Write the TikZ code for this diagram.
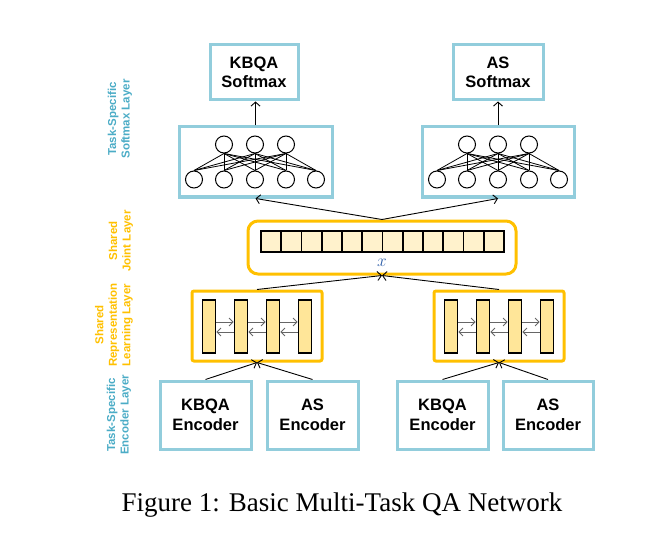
\documentclass[tikz,border=0pt]{standalone}
\usepackage{fontspec}
\setmainfont{Liberation Serif}
\setsansfont{Liberation Sans}
\usetikzlibrary{calc, positioning, arrows.meta}
\definecolor{taskblue}{HTML}{92CDDC}
\definecolor{tasktext}{HTML}{4BACC6}
\definecolor{sharedorange}{HTML}{FFC000}
\definecolor{celly}{HTML}{FFF2CC}
\definecolor{bary}{HTML}{FFE699}
\definecolor{xblue}{HTML}{2E5EA8}
\tikzset{
  taskbox/.style={draw=taskblue, line width=3pt, fill=white, align=center, inner sep=0pt,
    font=\sffamily\bfseries\fontsize{16.5}{19.5}\selectfont},
  sharedbox/.style={draw=sharedorange, line width=3pt, inner sep=0pt},
  neuron/.style={circle, draw, line width=1pt, minimum size=17pt, inner sep=0pt},
  cell/.style={draw, fill=celly, line width=1.6pt, minimum width=20.25pt, minimum height=21pt, inner sep=0pt},
  bar/.style={draw, fill=bary, line width=1.6pt, minimum width=13pt, minimum height=53pt, inner sep=0pt},
  sidelabel/.style={rotate=90, align=center, font=\sffamily\bfseries\fontsize{11.5}{13.5}\selectfont},
  link/.style={line width=0.9pt, -{Straight Barb[length=4pt,width=9pt]}},
  barlink/.style={gray!80!black, line width=0.9pt, -{Straight Barb[length=4pt,width=8pt]}}
}
\begin{document}
\begin{tikzpicture}[x=1pt, y=-1pt]
  \useasboundingbox (0,0) rectangle (650,540);
  % Task-specific softmax boxes
  \node[taskbox, minimum width=88pt, minimum height=55pt] (kbqasoft) at (254,72.5) {KBQA\\Softmax};
  \node[taskbox, minimum width=90pt, minimum height=55pt] (assoft) at (498,72.5) {AS\\Softmax};
  % Softmax networks
  \node[taskbox, minimum width=153pt, minimum height=70pt] (kbqanet) at (255.5,162) {};
  \node[taskbox, minimum width=152pt, minimum height=70pt] (asnet) at (498,162) {};
  \foreach \net/\cx in {k/255, a/498} {
    \foreach \i/\dx in {1/-31, 2/0, 3/31}
      \node[neuron] (\net t\i) at (\cx+\dx,144.5) {};
    \foreach \j/\dx in {1/-61, 2/-31, 3/0, 4/31, 5/61}
      \node[neuron] (\net b\j) at (\cx+\dx,179.5) {};
    \foreach \i in {1,2,3}
      \foreach \j in {1,...,5}
        \draw[line width=0.8pt] (\net t\i.south) -- (\net b\j.north);
  }
  \draw[link] (kbqanet.north) -- (kbqanet.north |- kbqasoft.south);
  \draw[link] (asnet.north) -- (asnet.north |- assoft.south);
  % Shared joint layer
  \node[sharedbox, rounded corners=10pt, minimum width=268pt, minimum height=53pt] (joint) at (382,247.5) {};
  \foreach \i in {1,...,12}
    \node[cell] (cell\i) at (261+20.25*\i-10.125,241.5) {};
  \node[text=xblue, font=\fontsize{17.28}{17.28}\selectfont] (xlab) at (382,263) {$x$};
  \draw[link] (joint.north) -- (kbqanet.south);
  \draw[link] (joint.north) -- (asnet.south);
  % Shared representation learning layer
  \foreach \rep/\cx in {krep/257, arep/499} {
    \node[sharedbox, rounded corners=2pt, minimum width=130pt, minimum height=70pt] (\rep) at (\cx,326) {};
    \foreach \i/\dx in {1/-48, 2/-16, 3/16, 4/48}
      \node[bar] (\rep\i) at (\cx+\dx,326.5) {};
    \foreach \i/\k in {1/2, 2/3, 3/4} {
      \draw[barlink] ([yshift=4.5pt]\rep\i.east) -- ([yshift=4.5pt]\rep\k.west);
      \draw[barlink] ([yshift=-5.5pt]\rep\k.west) -- ([yshift=-5.5pt]\rep\i.east);
    }
    \draw[link] (\rep.north) -- (joint.south);
  }
  % Task-specific encoders
  \node[taskbox, minimum width=91pt, minimum height=68pt] (kbqaenc1) at (205.5,415) {KBQA\\Encoder};
  \node[taskbox, minimum width=91pt, minimum height=68pt] (asenc1) at (312.5,415) {AS\\Encoder};
  \node[taskbox, minimum width=91pt, minimum height=68pt] (kbqaenc2) at (442.5,415) {KBQA\\Encoder};
  \node[taskbox, minimum width=90pt, minimum height=68pt] (asenc2) at (548,415) {AS\\Encoder};
  \draw[link] (kbqaenc1.north) -- (krep.south);
  \draw[link] (asenc1.north) -- (krep.south);
  \draw[link] (kbqaenc2.north) -- (arep.south);
  \draw[link] (asenc2.north) -- (arep.south);
  % Layer names
  \node[sidelabel, text=tasktext] (softlab) at (120,119) {Task-Specific\\Softmax Layer};
  \node[sidelabel, text=sharedorange] (jointlab) at (121,241) {Shared\\Joint Layer};
  \node[sidelabel, text=sharedorange] (replab) at (114,325) {Shared\\Representation\\Learning Layer};
  \node[sidelabel, text=tasktext] (enclab) at (119,415) {Task-Specific\\Encoder Layer};
  % Caption
  \node[font=\fontsize{27}{32}\selectfont] (caption) at (342,505) {Figure 1: Basic Multi-Task QA Network};
\end{tikzpicture}
\end{document}
